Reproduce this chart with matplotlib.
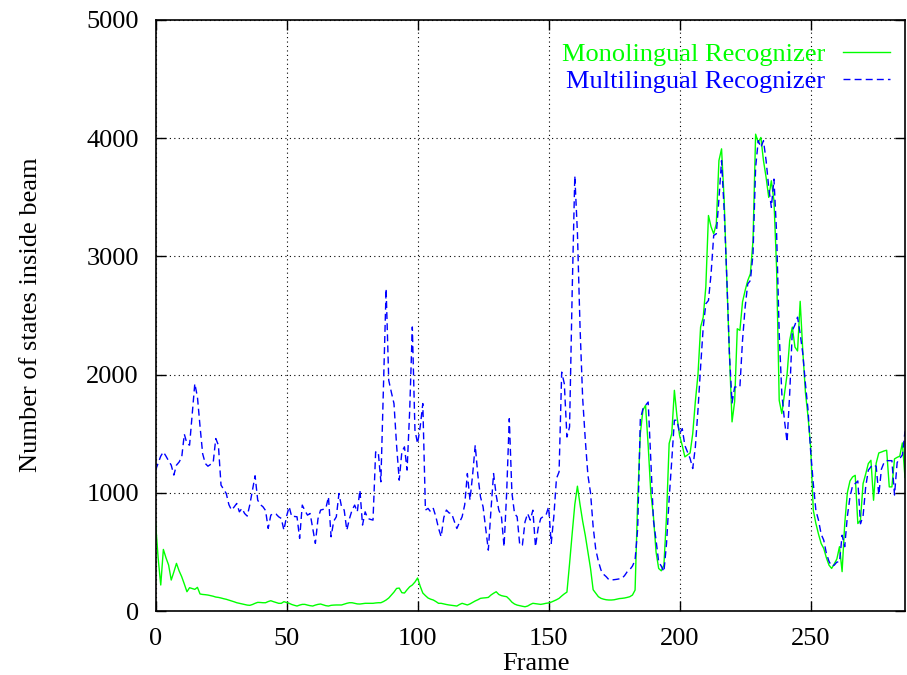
import numpy as np
import matplotlib
matplotlib.use("Agg")
import matplotlib.pyplot as plt

plt.rcParams['font.family'] = 'Liberation Serif'
plt.rcParams['font.size'] = 19

# states inside beam per frame
mono_states = [
    755, 450, 220, 521, 450, 389, 262, 330, 403, 340,
    290, 228, 163, 197, 190, 183, 200, 144, 140, 138,
    135, 130, 125, 118, 115, 110, 104, 99, 92, 85,
    78, 70, 65, 60, 55, 50, 48, 55, 65, 73,
    72, 70, 70, 80, 87, 79, 72, 65, 65, 79,
    72, 65, 55, 48, 42, 50, 56, 56, 50, 45,
    42, 50, 56, 59, 52, 45, 42, 48, 50, 51,
    51, 51, 58, 65, 70, 70, 65, 60, 59, 62,
    65, 65, 65, 65, 68, 70, 70, 80, 93, 110,
    135, 160, 191, 194, 155, 152, 180, 205, 220, 245,
    279, 210, 152, 130, 110, 100, 93, 80, 65, 65,
    60, 55, 51, 48, 45, 42, 55, 65, 58, 51,
    60, 73, 85, 95, 107, 110, 112, 115, 135, 150,
    163, 140, 130, 125, 121, 100, 75, 59, 50, 45,
    40, 36, 42, 55, 65, 62, 59, 56, 60, 65,
    68, 75, 85, 95, 107, 127, 145, 160, 400, 656,
    900, 1056, 900, 760, 640, 500, 360, 180, 150, 121,
    107, 100, 95, 93, 93, 95, 100, 105, 107, 110,
    115, 121, 135, 177, 937, 1501, 1700, 1740, 1400, 1000,
    803, 500, 360, 340, 388, 803, 1417, 1500, 1867, 1644,
    1482, 1400, 1304, 1320, 1337, 1500, 1773, 2000, 2402, 2485,
    2744, 3346, 3250, 3191, 3276, 3811, 3910, 3473, 2800, 2177,
    1600, 1773, 2388, 2374, 2615, 2712, 2796, 2853, 3134, 4034,
    3964, 4006, 3810, 3668, 3499, 3640, 3471, 2900, 1782, 1670,
    1838, 2000, 2289, 2402, 2233, 2200, 2620, 2200, 1850, 1644,
    1385, 853, 740, 650, 571, 529, 450, 388, 360, 398,
    440, 544, 333, 738, 1000, 1100, 1134, 1148, 740, 768,
    1078, 1159, 1247, 1275, 937, 1250, 1337, 1345, 1354, 1360,
    1050, 1050, 1287, 1300, 1310, 1422, 1130,
]

multi_states = [
    1190, 1250, 1310, 1346, 1310, 1270, 1234, 1150, 1234, 1260,
    1300, 1496, 1417, 1403, 1660, 1924, 1811, 1560, 1330, 1248,
    1225, 1240, 1253, 1459, 1403, 1065, 1030, 994, 900, 854,
    880, 910, 839, 868, 825, 803, 900, 1020, 1144, 938,
    900, 882, 850, 699, 811, 825, 820, 797, 783, 684,
    800, 882, 797, 800, 797, 614, 896, 850, 811, 825,
    700, 572, 780, 854, 860, 868, 966, 628, 760, 797,
    994, 880, 854, 684, 780, 854, 896, 839, 1023, 727,
    839, 783, 775, 769, 1346, 1346, 1093, 1900, 2727, 1952,
    1850, 1755, 1400, 1107, 1346, 1389, 1192, 1699, 2403, 1530,
    1417, 1558, 1755, 854, 868, 839, 868, 797, 700, 628,
    790, 854, 830, 825, 760, 698, 750, 797, 900, 1163,
    938, 1150, 1402, 1150, 966, 881, 700, 515, 850, 1163,
    980, 854, 800, 543, 1000, 1627, 1000, 825, 797, 557,
    557, 754, 825, 769, 853, 543, 700, 783, 800, 811,
    881, 572, 800, 1121, 1177, 2021, 1923, 1472, 1557, 2700,
    3682, 3200, 2400, 1800, 1450, 1150, 1000, 713, 520, 420,
    346, 310, 290, 265, 262, 265, 268, 272, 276, 300,
    332, 350, 380, 430, 700, 1620, 1710, 1740, 1768, 1280,
    768, 600, 416, 380, 332, 571, 950, 1275, 1614, 1614,
    1501, 1543, 1400, 1346, 1290, 1205, 1388, 1700, 2064, 2400,
    2599, 2627, 2853, 3177, 3191, 3487, 3811, 3388, 2825, 2177,
    1760, 1895, 1895, 1895, 2289, 2571, 2768, 2796, 3021, 3753,
    3979, 3922, 3979, 3810, 3584, 3415, 3654, 3200, 2346, 1838,
    1614, 1430, 1838, 2373, 2420, 2486, 2346, 2177, 1923, 1700,
    1350, 1078, 850, 768, 650, 599, 487, 420, 380, 388,
    414, 414, 641, 544, 800, 964, 1061, 1078, 1100, 738,
    803, 1050, 1191, 1220, 1239, 1223, 981, 1200, 1256, 1272,
    1272, 1272, 981, 1256, 1290, 1320, 1520,
]

frames = np.arange(len(mono_states))
x_ticks = [0, 50, 100, 150, 200, 250]
y_ticks = [0, 1000, 2000, 3000, 4000, 5000]

W, H = 907, 675
fig = plt.figure(figsize=(W / 100, H / 100), dpi=100)
ax = fig.add_axes([155.5 / W, 64 / H, (905 - 155.5) / W, 591 / H])

ax.plot(frames, mono_states, color=(0, 1, 0), lw=1.0, label='Monolingual Recognizer')
ax.plot(frames, multi_states, color=(0, 0, 1), lw=1.0, dashes=(5, 3),
        label='Multilingual Recognizer')

ax.set_xlim(0, 286)
ax.set_ylim(0, 5000)
ax.set_xticks(x_ticks)
ax.set_yticks(y_ticks)
ax.grid(True, color='black', linestyle=(0, (1, 3)), linewidth=0.8)
ax.tick_params(direction='in', length=7, width=1, top=True, right=True)
ax.tick_params(axis='y', pad=12)
ax.tick_params(axis='x', pad=12)
for s in ax.spines.values():
    s.set_linewidth(1.2)

fig.text(31 / W, 1 - 315 / H, 'Number of states inside beam', rotation=90,
         ha='center', va='center')
fig.text(536 / W, 1 - 664 / H, 'Frame', ha='center', va='center')

ax.legend(loc='upper right', bbox_to_anchor=(890 / W, 1 - 43 / H),
          bbox_transform=fig.transFigure, frameon=False, markerfirst=False,
          labelcolor='linecolor', handlelength=1.8, handletextpad=0.65,
          borderpad=0, borderaxespad=0, labelspacing=0.12)

fig.savefig('out.png', dpi=100)
